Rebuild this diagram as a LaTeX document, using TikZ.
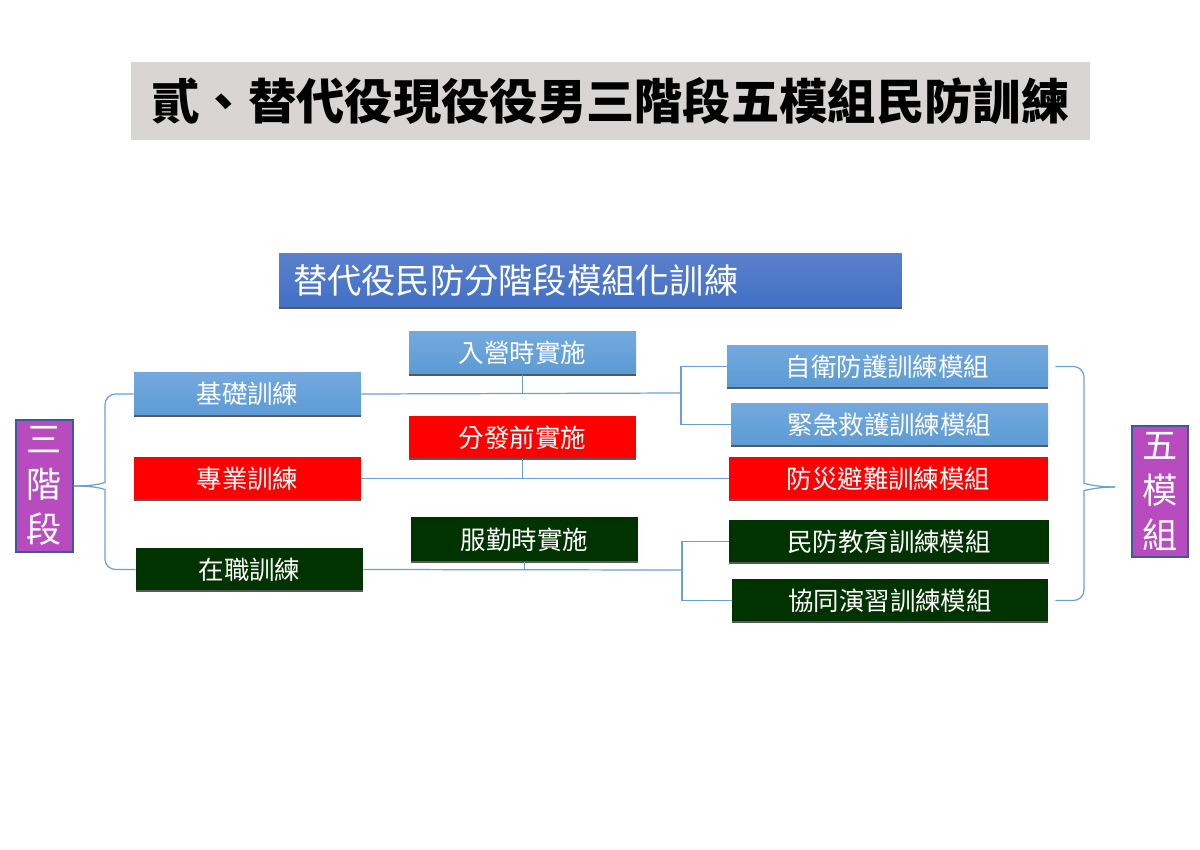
\documentclass[tikz,border=0pt]{standalone}
\usepackage{fontspec}
\newfontfamily\cjk{Noto Sans CJK TC}
\usetikzlibrary{calc}

\definecolor{skytop}{HTML}{74A9DE}
\definecolor{skybot}{HTML}{5B9BD5}
\definecolor{subtop}{HTML}{5B80CC}
\definecolor{subbot}{HTML}{4170C6}
\definecolor{dkgreen}{HTML}{003300}
\definecolor{plum}{HTML}{B84CBF}
\definecolor{plumedge}{HTML}{3B5A9A}
\definecolor{headgray}{HTML}{D9D5D5}
\definecolor{linkblue}{HTML}{6A9FD8}
\definecolor{shade}{HTML}{595959}

\tikzset{
  tbox/.style={inner sep=0pt, minimum height=0.86cm, text=white,
    font=\cjk\fontsize{14.5}{16}\selectfont,
    append after command={(\tikzlastnode.south west) edge[shadowline] (\tikzlastnode.south east)}},
  shadowline/.style={draw=shade, line width=1.2pt},
  skybox/.style={tbox, top color=skytop, bottom color=skybot},
  redbox/.style={tbox, fill=red},
  greenbox/.style={tbox, fill=dkgreen},
  wd/.style={minimum width=#1*0.02cm},
  plumbox/.style={fill=plum, draw=plumedge, line width=1pt, text=white, inner sep=0pt,
    minimum width=1.13cm, minimum height=2.64cm, align=center,
    font=\cjk\fontsize{20}{25.5}\selectfont},
  link/.style={draw=linkblue, line width=0.7pt}
}

\begin{document}
\begin{tikzpicture}[x=0.02cm, y=-0.02cm]
\useasboundingbox (0,0) rectangle (1200,849);

% headings
\node[fill=headgray, minimum width=19.18cm, minimum height=1.56cm, inner sep=0pt,
  font=\cjk\bfseries\fontsize{27.5}{30}\selectfont] (title) at (610.5,101) {貳、替代役現役役男三階段五模組民防訓練};
\node[top color=subtop, bottom color=subbot, text=white, minimum height=1.1cm, inner xsep=0.28cm, inner ysep=0pt,
  text width=11.9cm, align=left, font=\cjk\fontsize{19.5}{21}\selectfont,
  append after command={(\tikzlastnode.south west) edge[shadowline] (\tikzlastnode.south east)}]
  (sub) at (590.5,280.5) {替代役民防分階段模組化訓練};

% stages
\node[plumbox] (stage) at (44.5,486) {三\\階\\段};
\node[skybox, wd=227] (basic) at (247.5,394) {基礎訓練};
\node[redbox, wd=227] (major) at (247.5,478.5) {專業訓練};
\node[greenbox, wd=227] (onjob) at (249.5,569.5) {在職訓練};

% timing
\node[skybox, wd=227] (entry) at (522.5,353) {入營時實施};
\node[redbox, wd=227] (predist) at (522.5,437.5) {分發前實施};
\node[greenbox, wd=227, minimum height=0.9cm] (duty) at (524.5,539.5) {服勤時實施};

% modules
\node[skybox, wd=321] (selfm) at (887.5,366.5) {自衛防護訓練模組};
\node[skybox, wd=317] (rescue) at (889.5,424.5) {緊急救護訓練模組};
\node[redbox, wd=319] (disaster) at (888.5,478.5) {防災避難訓練模組};
\node[greenbox, wd=320] (educ) at (889,541.5) {民防教育訓練模組};
\node[greenbox, wd=316] (drill) at (890,600.5) {協同演習訓練模組};
\node[plumbox, minimum height=2.62cm] (five) at (1160,491.5) {五\\模\\組};

% helper points
\coordinate (forkA) at (681,393);
\coordinate (forkC) at (682,570);
\coordinate (bL1) at (105,472);
\coordinate (bL2) at (105,500);
\coordinate (bR1) at (1084,473);
\coordinate (bR2) at (1084,501);
\coordinate (tipR) at (1115,487);

% left brace
\draw[link, rounded corners=6pt] (stage.east) .. controls +(26,0) and +(0,10) .. (bL1) |- (basic.west);
\draw[link, rounded corners=6pt] (stage.east) .. controls +(26,0) and +(0,-10) .. (bL2) |- (onjob.west);

% links
\draw[link] (basic.east) -- (forkA);
\draw[link] (entry.south) -- (entry.south |- forkA);
\draw[link] (selfm.west) -| (forkA) |- (rescue.west);
\draw[link] (major.east) -- (disaster.west);
\draw[link] (predist.south) -- (predist.south |- major.east);
\draw[link] (onjob.east) -- (forkC);
\draw[link] (duty.south) -- (duty.south |- forkC);
\draw[link] (educ.west) -| (forkC) |- (drill.west);

% right brace
\draw[link, rounded corners=6pt] ([xshift=0.14cm]selfm.east) -| (bR1) .. controls +(0,10) and +(-20,0) .. (tipR);
\draw[link, rounded corners=6pt] ([xshift=0.14cm]drill.east) -| (bR2) .. controls +(0,-10) and +(-20,0) .. (tipR);
\end{tikzpicture}
\end{document}
